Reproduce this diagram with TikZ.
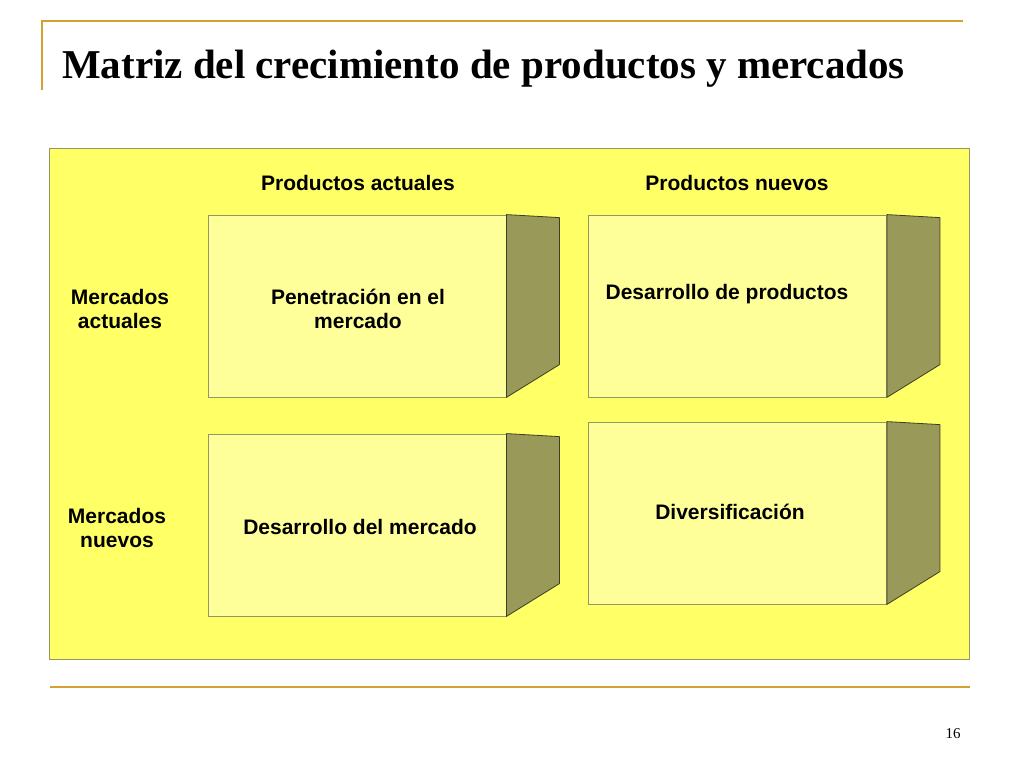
\documentclass[tikz,border=0pt]{standalone}
\usepackage{fontspec}
\setmainfont{Liberation Serif}
\setsansfont{Liberation Sans}
\definecolor{gold}{RGB}{212,160,50}
\definecolor{panel}{RGB}{255,255,102}
\definecolor{front}{RGB}{255,255,153}
\definecolor{side}{RGB}{153,153,90}
\definecolor{edge}{RGB}{150,150,100}
\begin{document}
\begin{tikzpicture}[x=1pt,y=-1pt]
	\tikzstyle{every node}=[inner sep=0pt]
	\tikzstyle{rule}=[gold,line width=2pt]
	\tikzstyle{block}=[draw=edge,fill=front,line width=0.8pt,minimum width=298pt,minimum height=182pt]
	\tikzstyle{sideface}=[draw=black!60!side,fill=side,line width=0.8pt,line join=round]
	\tikzstyle{label}=[font=\fontsize{21}{24}\selectfont\sffamily\bfseries,align=center]

	\useasboundingbox[fill=white] (0,0) rectangle (1024,768);

	% title and rules
	\draw[rule] (42,90) -- (42,21) -- (963,21);
	\draw[rule] (50,687) -- (970,687);
	\node[anchor=base west,font=\fontsize{41}{48}\selectfont\bfseries] (title) at (62,78) {Matriz del crecimiento de productos y mercados};
	\node[anchor=base,font=\fontsize{15}{18}\selectfont] (page) at (953,738) {16};

	% panel
	\draw[draw=edge,fill=panel,line width=0.8pt] (49,148) rectangle (969,659);

	% blocks
	\node[block] (pen) at (357,306) {};
	\node[block] (dprod) at (737.5,306) {};
	\node[block] (dmer) at (357,525) {};
	\node[block] (div) at (737.5,513) {};
	\foreach \b in {pen,dprod,dmer,div}
		\draw[sideface] (\b.north east) -- ++(53,3) -- ++(0,147) -- (\b.south east) -- cycle;

	% headings
	\node[label] (pact) at (358,183) {Productos actuales};
	\node[label] (pnue) at (737,183) {Productos nuevos};
	\node[label] (mact) at (120,309) {Mercados\\actuales};
	\node[label] (mnue) at (117,528) {Mercados\\nuevos};

	% block texts
	\node[label] (tpen) at (358,309) {Penetración en el\\mercado};
	\node[label] (tdprod) at (727,294) {Desarrollo de productos};
	\node[label] (tdmer) at (360,527) {Desarrollo del mercado};
	\node[label] (tdiv) at (730,512) {Diversificación};
\end{tikzpicture}
\end{document}
